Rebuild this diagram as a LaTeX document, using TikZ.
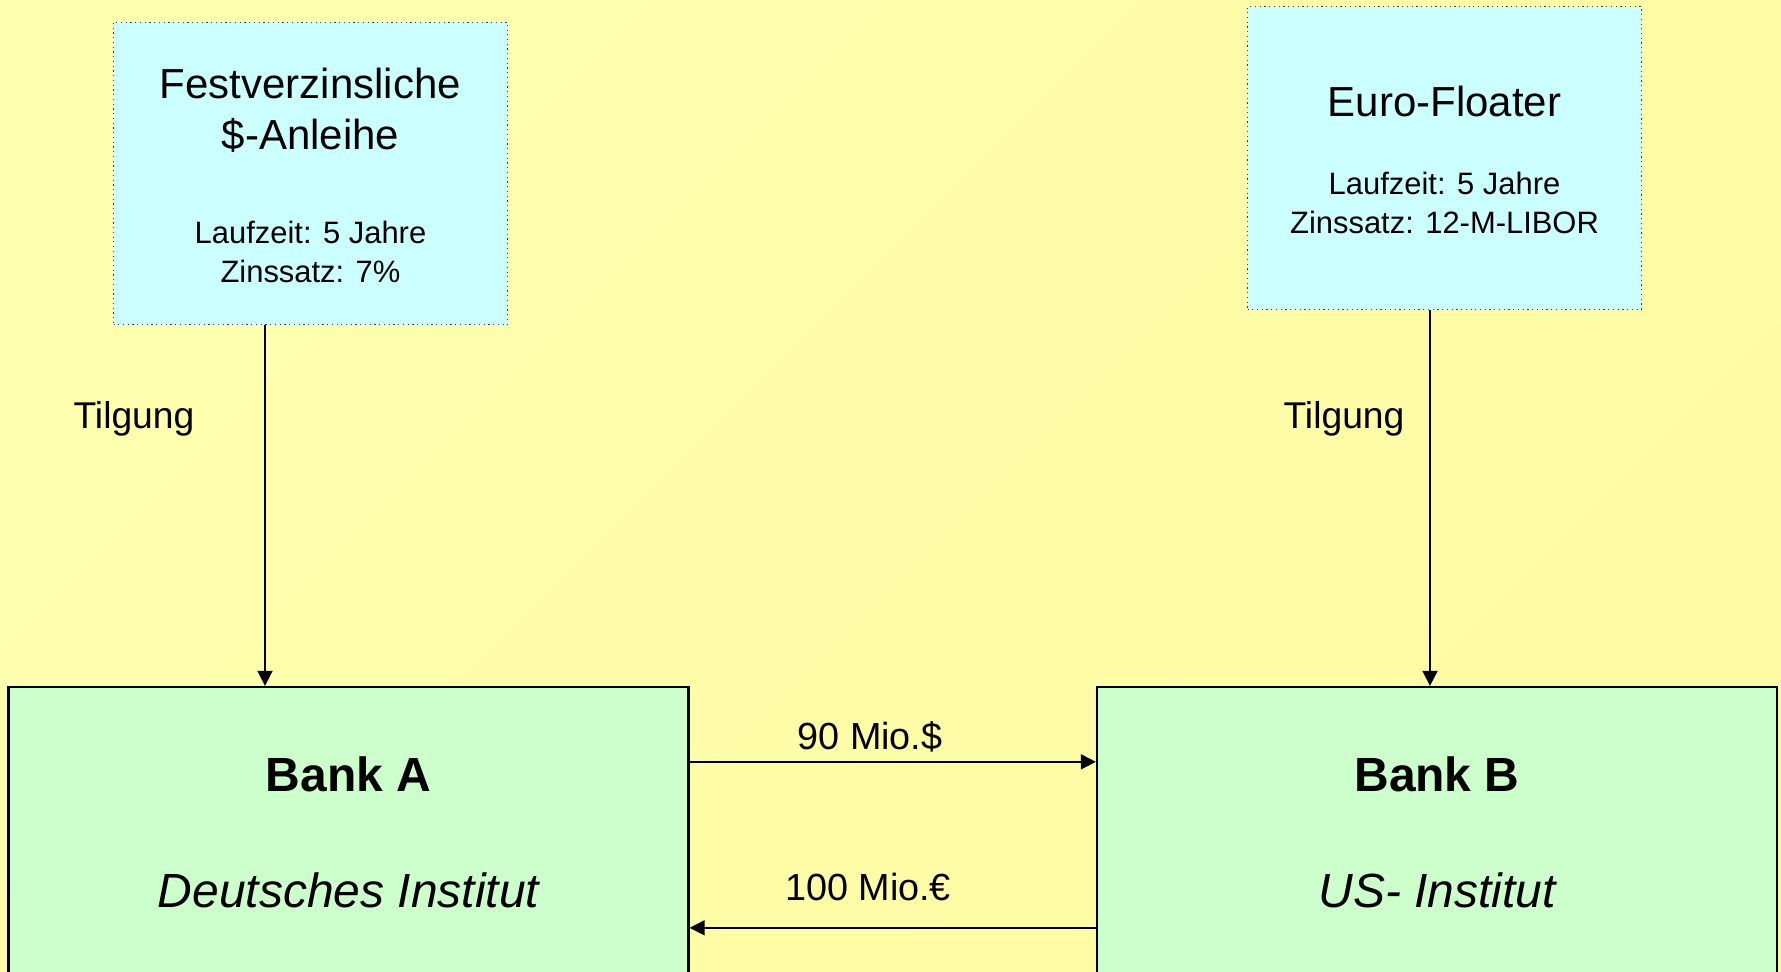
\documentclass[tikz,border=0pt]{standalone}
\usepackage{fontspec}
\setmainfont{Liberation Sans}
\usepackage{tikz}
\usetikzlibrary{arrows.meta,positioning,calc}
\definecolor{bgedge}{HTML}{FFFFAE}
\definecolor{bgmid}{HTML}{FFFFC8}
\definecolor{bgedgeb}{HTML}{FFFBA4}
\definecolor{bondcyan}{HTML}{CCFFFF}
\definecolor{bankgreen}{HTML}{CCFFCC}
\tikzset{
  bondbox/.style={draw=black!75, dotted, line width=0.7pt, fill=bondcyan,
                  minimum width=7.88cm, minimum height=6.05cm, inner sep=0pt},
  bankbox/.style={draw=black, line width=1.3pt, fill=bankgreen,
                  minimum width=13.6cm, minimum height=6.2cm, inner sep=0pt},
  flowarr/.style={-{Triangle[length=3mm,width=3mm]}, draw=black, line width=1pt},
  bondtitle/.style={font=\fontsize{23.9}{29}\selectfont, align=center},
  bondinfo/.style={font=\fontsize{17.6}{22}\selectfont, align=center},
  flowlab/.style={font=\fontsize{21.5}{26}\selectfont},
  tilglab/.style={font=\fontsize{21.2}{26}\selectfont},
  banktitle/.style={font=\fontsize{27.3}{33}\selectfont\bfseries},
  bankinfo/.style={font=\fontsize{27.3}{33}\selectfont\itshape},
}

\begin{document}
\begin{tikzpicture}[x=1cm,y=1cm]
\useasboundingbox (0,0) rectangle (35.62,19.44);
\shade[top color=bgedge, middle color=bgmid, bottom color=bgedgeb, shading angle=45]
  (0,0) rectangle (35.62,19.44);
% Anleihen
\node[bondbox] (anleihe) at (6.21,15.97) {};
\node[bondbox] (floater) at (28.89,16.28) {};
\node[bondtitle] (anleiheT) at ([yshift=-1.77cm]anleihe.north) {Festverzinsliche\\\$-Anleihe};
\node[bondinfo] (anleiheI) at ([yshift=-4.6cm]anleihe.north) {Laufzeit: 5 Jahre\\Zinssatz: 7\%};
\node[bondtitle] (floaterT) at ([yshift=-1.9cm]floater.north) {Euro-Floater};
\node[bondinfo] (floaterI) at ([yshift=-3.94cm]floater.north) {Laufzeit: 5 Jahre\\Zinssatz: 12-M-LIBOR};
% Banken
\node[bankbox] (bankA) at (6.97,2.6) {};
\node[bankbox] (bankB) at (28.74,2.6) {};
\node[banktitle] (bankAT) at ([yshift=-1.78cm]bankA.north) {Bank A};
\node[bankinfo] (bankAI) at ([yshift=-4.1cm]bankA.north) {Deutsches Institut};
\node[banktitle] (bankBT) at ([yshift=-1.78cm]bankB.north) {Bank B};
\node[bankinfo] (bankBI) at ([yshift=-4.1cm]bankB.north) {US- Institut};
% Tilgung
\draw[flowarr] ([xshift=-0.91cm]anleihe.south) -- ([xshift=-0.91cm]anleihe.south |- bankA.north);
\draw[flowarr] ([xshift=-0.29cm]floater.south) -- ([xshift=-0.29cm]floater.south |- bankB.north);
\node[tilglab] (tilgA) at (2.68,11.06) {Tilgung};
\node[tilglab] (tilgB) at (26.88,11.06) {Tilgung};
% Tausch
\draw[flowarr] ([yshift=-1.52cm]bankA.north east) -- ([yshift=-1.52cm]bankB.north west);
\draw[flowarr] ([yshift=-4.84cm]bankB.north west) -- ([yshift=-4.84cm]bankA.north east);
\node[flowlab] (dollar) at (17.4,4.7) {90 Mio.\$};
\node[flowlab] (euro) at (17.36,1.7) {100 Mio.€};
\end{tikzpicture}
\end{document}
